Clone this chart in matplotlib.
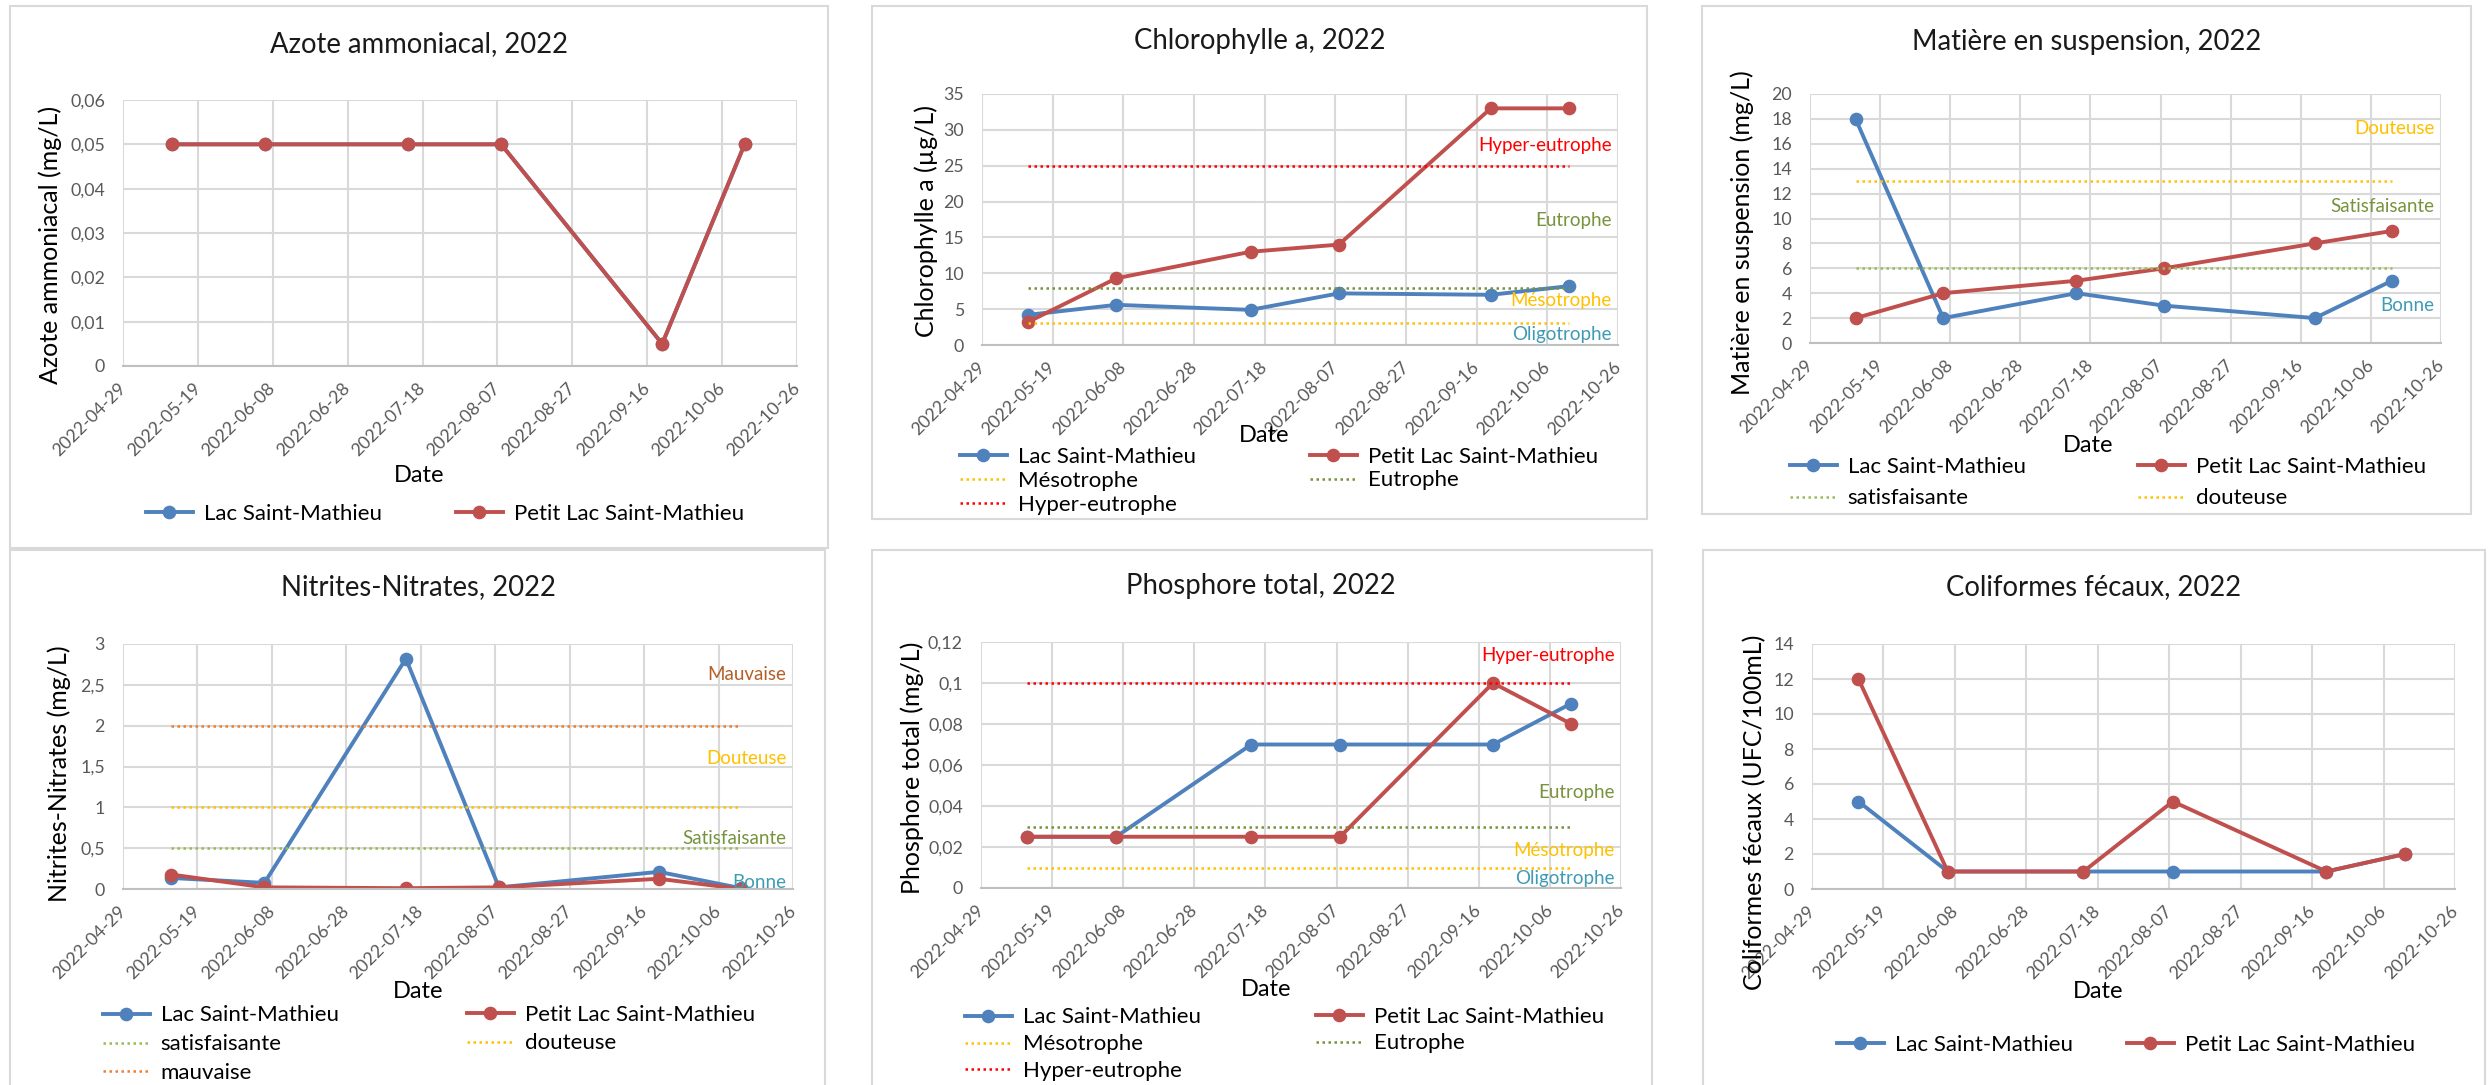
import matplotlib.pyplot as plt
import numpy as np
from matplotlib.legend import Legend

W, H = 2489, 1085
plt.rcParams['font.family'] = ['Lato', 'DejaVu Sans']

# sampling campaigns, 2022
sampleDates = np.array(['2022-05-12', '2022-06-06', '2022-07-14', '2022-08-08', '2022-09-20', '2022-10-12'],
                       dtype='datetime64[D]')
tickLabels = ['2022-04-29', '2022-05-19', '2022-06-08', '2022-06-28', '2022-07-18',
              '2022-08-07', '2022-08-27', '2022-09-16', '2022-10-06', '2022-10-26']

azoteLac = [0.05, 0.05, 0.05, 0.05, 0.005, 0.05]
azotePetit = [0.05, 0.05, 0.05, 0.05, 0.005, 0.05]

chloroLac = [4.2, 5.6, 4.9, 7.2, 7.0, 8.2]
chloroPetit = [3.2, 9.3, 13.0, 14.0, 33.0, 33.0]

mesLac = [18, 2, 4, 3, 2, 5]
mesPetit = [2, 4, 5, 6, 8, 9]

nitritesLac = [0.135, 0.075, 2.82, 0.02, 0.21, 0.01]
nitritesPetit = [0.177, 0.02, 0.01, 0.02, 0.125, 0.0]

phosphoreLac = [0.025, 0.025, 0.07, 0.07, 0.07, 0.09]
phosphorePetit = [0.025, 0.025, 0.025, 0.025, 0.1, 0.08]

coliformesLac = [5, 1, 1, 1, 1, 2]
coliformesPetit = [12, 1, 1, 5, 1, 2]

# trophic / quality class limits
chloroLimits = [('Mésotrophe', 3), ('Eutrophe', 8), ('Hyper-eutrophe', 25)]
mesLimits = [('satisfaisante', 6), ('douteuse', 13)]
nitritesLimits = [('satisfaisante', 0.5), ('douteuse', 1), ('mauvaise', 2)]
phosphoreLimits = [('Mésotrophe', 0.01), ('Eutrophe', 0.03), ('Hyper-eutrophe', 0.1)]

BLUE = '#4F81BD'
RED = '#C0504D'
LIMIT_COLORS = {'Mésotrophe': '#FFC000', 'Eutrophe': '#77933C', 'Hyper-eutrophe': '#FF0000',
                'satisfaisante': '#9BBB59', 'douteuse': '#FFC000', 'mauvaise': '#ED7D31'}
CLASS_COLORS = {'Hyper-eutrophe': '#FF0000', 'Eutrophe': '#77933C', 'Mésotrophe': '#FFC000',
                'Oligotrophe': '#3E9BB3', 'Mauvaise': '#B45F25', 'Douteuse': '#FFC000',
                'Satisfaisante': '#77933C', 'Bonne': '#3E9BB3'}

LEGEND_SIZE = 16
fig = plt.figure(figsize=(W / 100, H / 100), dpi=100)


def fx(x):
    return x / W


def fy(y):
    return 1 - y / H


def decimalComma(v):
    return f'{v:g}'.replace('.', ',')


def drawChart(frame, area, title, ylabel, lac, petit, yticks, limits, classes,
              titleAt, ylabelAt, dateAt, legendRows, legendCols):
    x0, y0, x1, y1 = frame
    fig.add_artist(plt.Rectangle((fx(x0), fy(y1)), (x1 - x0) / W, (y1 - y0) / H,
                                 transform=fig.transFigure, fill=False,
                                 edgecolor='#D9D9D9', lw=1.5))
    l, t, r, b = area
    ax = fig.add_axes([fx(l), fy(b), (r - l) / W, (b - t) / H])

    handles = []
    handles.append(ax.plot(sampleDates, lac, color=BLUE, lw=2.8, marker='o', ms=8.8,
                           label='Lac Saint-Mathieu')[0])
    handles.append(ax.plot(sampleDates, petit, color=RED, lw=2.8, marker='o', ms=8.8,
                           label='Petit Lac Saint-Mathieu')[0])
    for name, value in limits:
        handles.append(ax.plot(sampleDates[[0, -1]], [value, value], color=LIMIT_COLORS[name],
                               lw=1.8, ls=(0, (1, 1.4)), label=name)[0])

    for name, yPos in classes:
        ax.text(0.99, yPos, name, transform=ax.get_yaxis_transform(), ha='right', va='center',
                fontsize=13.5, color=CLASS_COLORS[name])

    ticks = np.array(tickLabels, dtype='datetime64[D]')
    ax.set_xlim(ticks[0], ticks[-1])
    ax.set_xticks(ticks)
    ax.set_xticklabels(tickLabels)
    for lbl in ax.get_xticklabels():
        lbl.set_rotation(45)
        lbl.set_ha('right')
        lbl.set_va('center')
        lbl.set_rotation_mode('anchor')
    ax.set_ylim(yticks[0], yticks[-1])
    ax.set_yticks(yticks)
    ax.set_yticklabels([decimalComma(v) for v in yticks])

    ax.tick_params(length=0, labelsize=12.8, labelcolor='#595959')
    ax.tick_params(axis='x', pad=14)
    ax.tick_params(axis='y', pad=13)
    for side in ['top', 'right', 'left']:
        ax.spines[side].set_visible(False)
    ax.spines['bottom'].set_color('#BFBFBF')
    ax.spines['bottom'].set_linewidth(1.5)
    ax.grid(True, color='#D9D9D9', lw=1.5)
    ax.set_axisbelow(True)

    fig.text(fx(titleAt[0]), fy(titleAt[1]), title, ha='center', va='center',
             fontsize=19.8, color='#1A1A1A')
    fig.text(fx(ylabelAt[0]), fy(ylabelAt[1]), ylabel, ha='center', va='center',
             rotation=90, fontsize=18, color='#000000')
    fig.text(fx(dateAt[0]), fy(dateAt[1]), 'Date', ha='center', va='center',
             fontsize=17, color='#000000')

    # Excel fills its legend row by row, two entries per row
    fsPx = LEGEND_SIZE * 100 / 72
    pitch = legendRows[1] - legendRows[0] if len(legendRows) > 1 else 25
    for c, colX in enumerate(legendCols):
        colHandles = handles[c::2]
        if not colHandles:
            continue
        rowsY = legendRows[:len(colHandles)]
        leg = Legend(ax, colHandles, [h.get_label() for h in colHandles],
                     loc='center left', bbox_to_anchor=(fx(colX), fy(np.mean(rowsY))),
                     bbox_transform=fig.transFigure, frameon=False, borderpad=0,
                     borderaxespad=0, handlelength=2.1, handletextpad=0.5,
                     labelspacing=max(pitch - 0.95 * fsPx, 0) / fsPx,
                     fontsize=LEGEND_SIZE, numpoints=1)
        ax.add_artist(leg)
    return ax


drawChart((10, 6, 828, 548), (123, 100, 797, 366), 'Azote ammoniacal, 2022',
          'Azote ammoniacal (mg/L)', azoteLac, azotePetit,
          np.arange(0, 0.061, 0.01), [], [],
          (419, 44), (50, 245), (419, 475), [514], [146, 456])

drawChart((872, 6, 1647, 519), (982, 94, 1618, 345), 'Chlorophylle a, 2022',
          'Chlorophylle a (µg/L)', chloroLac, chloroPetit,
          np.arange(0, 36, 5), chloroLimits,
          [('Hyper-eutrophe', 27.8), ('Eutrophe', 17.4), ('Mésotrophe', 6.2), ('Oligotrophe', 1.5)],
          (1260, 41), (926, 221), (1264, 436), [456, 481, 506], [960, 1310])

drawChart((1702, 6, 2471, 514), (1810, 94, 2441, 343), 'Matière en suspension, 2022',
          'Matière en suspension (mg/L)', mesLac, mesPetit,
          np.arange(0, 21, 2), mesLimits,
          [('Douteuse', 17.2), ('Satisfaisante', 11.0), ('Bonne', 3.0)],
          (2087, 42), (1742, 233), (2088, 446), [466, 499], [1790, 2138])

drawChart((10, 550, 825, 1095), (123, 644, 793, 889), 'Nitrites-Nitrates, 2022',
          'Nitrites-Nitrates (mg/L)', nitritesLac, nitritesPetit,
          np.arange(0, 3.01, 0.5), nitritesLimits,
          [('Mauvaise', 2.63), ('Douteuse', 1.6), ('Satisfaisante', 0.62), ('Bonne', 0.076)],
          (418, 587), (59, 774), (418, 992), [1014, 1044, 1075], [103, 467])

drawChart((872, 550, 1652, 1095), (981, 642, 1621, 888), 'Phosphore total, 2022',
          'Phosphore total (mg/L)', phosphoreLac, phosphorePetit,
          np.arange(0, 0.121, 0.02), phosphoreLimits,
          [('Hyper-eutrophe', 0.1133), ('Eutrophe', 0.0464), ('Mésotrophe', 0.0183), ('Oligotrophe', 0.0047)],
          (1261, 586), (912, 768), (1266, 990), [1016, 1044, 1073], [965, 1316])

drawChart((1703, 550, 2485, 1095), (1812, 644, 2455, 889), 'Coliformes fécaux, 2022',
          'Coliformes fécaux (UFC/100mL)', coliformesLac, coliformesPetit,
          np.arange(0, 15, 2), [], [],
          (2094, 587), (1755, 812), (2098, 992), [1045], [1837, 2127])

fig.savefig('out.png', dpi=100)
